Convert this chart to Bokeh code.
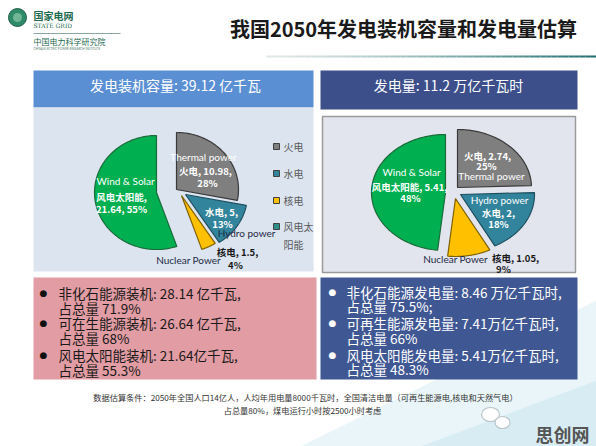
import numpy as np
from bokeh.plotting import figure
from bokeh.models import Range1d
from bokeh.core.properties import value
from bokeh.embed import file_html
from bokeh.resources import INLINE

# ---------------- data ----------------
categories = ["火电", "水电", "核电", "风电太阳能"]
categories_en = ["Thermal power", "Hydro power", "Nuclear Power", "Wind & Solar"]
capacity = [10.98, 5, 1.5, 21.64]          # 亿千瓦
capacity_pct = [28, 13, 4, 55]
generation = [2.74, 2, 1.05, 5.41]         # 万亿千瓦时
generation_pct = [25, 18, 9, 48]
capacity_total = "39.12"
generation_total = "11.2"
title = "我国2050年发电装机容量和发电量估算"
left_bullets = [("非化石能源装机: 28.14 亿千瓦,", "占总量 71.9%"),
                ("可在生能源装机: 26.64 亿千瓦,", "占总量 68%"),
                ("风电太阳能装机: 21.64亿千瓦,", "占总量 55.3%")]
right_bullets = [("非化石能源发电量: 8.46 万亿千瓦时,", "占总量 75.5%;"),
                 ("可再生能源发电量: 7.41万亿千瓦时,", "占总量 66%"),
                 ("风电太阳能发电量: 5.41万亿千瓦时,", "占总量 48.3%")]
footnote = ["数据估算条件：2050年全国人口14亿人，人均年用电量8000千瓦时，全国清洁电量（可再生能源电,核电和天然气电）",
            "占总量80%，煤电运行小时按2500小时考虑"]

# ---------------- styles ----------------
CJK = value("Noto Sans CJK SC")
LAT = value("Lato")
slice_colors = ["#7f7f7f", "#31849b", "#ffc000", "#00b050"]
slice_lines = ["#3a3a3a", "#1f4e5f", "#7f6000", "#1b6b3a"]

p = figure(width=596, height=446, x_range=Range1d(0, 596), y_range=Range1d(446, 0),
           toolbar_location=None, output_backend="svg", min_border=0)
p.axis.visible = False
p.grid.visible = False
p.outline_line_color = None
p.background_fill_color = "white"
p.border_fill_color = "white"


def txt(x, y, s, size, color, font=CJK, bold=False, align="center"):
    p.text(x=[x], y=[y], text=[s], text_font=font, text_font_size=f"{size}px",
           text_color=color, text_align=align, text_baseline="middle",
           text_font_style="bold" if bold else "normal")


# background tint bottom-right
p.patch([300, 596, 596], [446, 300, 446], fill_color="#cfe8f0", fill_alpha=0.45, line_color=None)
p.patch([420, 596, 596, 500], [446, 380, 446, 446], fill_color="#bfe0ea", fill_alpha=0.4, line_color=None)

# logo
p.scatter(x=[17], y=[17], size=18, fill_color="#2f8a6a", line_color="#1c5e46")
p.scatter(x=[17], y=[17], size=9, fill_color="#8cc9a9", line_color=None, fill_alpha=0.7)
txt(33, 15, "国家电网", 10, "#1e6b50", bold=True, align="left")
txt(33, 25, "STATE GRID", 6, "#1e6b50", font=value("DejaVu Serif"), align="left")
p.segment(x0=[33], y0=[33], x1=[120], y1=[33], line_color="#8aa8a0", line_width=1)
txt(33, 41, "中国电力科学研究院", 8, "#1e6b50", align="left")
txt(33, 48, "CHINA ELECTRIC POWER RESEARCH INSTITUTE", 3, "#557f70", font=LAT, align="left")

# title + underline
txt(403, 28, title, 20, "#1a1a1a", bold=True)
xs = np.linspace(266, 596, 60)
cols = []
for f in np.linspace(0, 1, 59):
    c0 = np.array([225, 232, 232]); c1 = np.array([30, 110, 110])
    c = (c0 + (c1 - c0) * f ** 1.3).astype(int)
    cols.append("#%02x%02x%02x" % tuple(c))
p.segment(x0=xs[:-1], y0=[56] * 59, x1=xs[1:], y1=[56] * 59, line_color=cols, line_width=2)

# panels
p.quad(left=[33], right=[313], top=[70], bottom=[107], fill_color="#5b8fd4", line_color=None)
p.quad(left=[33], right=[313], top=[107], bottom=[271], fill_color="#dbe4ef", line_color=None)
p.quad(left=[320], right=[577], top=[70], bottom=[109], fill_color="#3c4f8a", line_color=None)
p.quad(left=[322], right=[575], top=[116], bottom=[272], fill_color="#e3e5ee",
       line_color="#9a9a9a", line_width=1.5)
p.quad(left=[33], right=[316], top=[277], bottom=[379], fill_color="#e29ca3", line_color=None)
p.quad(left=[320], right=[577], top=[277], bottom=[379], fill_color="#3f5893", line_color=None)

txt(175, 84, f"发电装机容量: {capacity_total} 亿千瓦", 14, "white")
txt(448, 84, f"发电量: {generation_total} 万亿千瓦时", 14, "white")


# pies (elliptical, exploded), clockwise from 12 o'clock
def pie(values, cx, cy, rx, ry, offsets):
    total = float(sum(values))
    start = 0.0
    pxs, pys = [], []
    for v, (dx, dy) in zip(values, offsets):
        end = start + v / total * 2 * np.pi
        t = np.linspace(start, end, 80)
        pxs.append(list(cx + dx + rx * np.sin(t)) + [cx + dx])
        pys.append(list(cy + dy - ry * np.cos(t)) + [cy + dy])
        start = end
    p.patches(pxs, pys, fill_color=slice_colors, line_color=slice_lines, line_width=1.2)


pie(capacity, 176, 193, 62, 57, [(0, -4), (9, 1), (5, 2), (-20, -1)])
pie(generation, 455, 192, 74, 58, [(2, -5), (5, 2), (0, 6), (-10, 0)])

# left pie labels
W = "white"
txt(203, 156, categories_en[0], 10, W, font=LAT)
txt(205, 170, f"{categories[0]}, {capacity[0]:g},", 9.5, W, bold=True)
txt(207, 182, f"{capacity_pct[0]}%", 9.5, W, bold=True)
txt(125, 180, categories_en[3], 10, W, font=LAT)
txt(121, 196, f"{categories[3]},", 9.5, W, bold=True)
txt(121, 208, f"{capacity[3]:g}, {capacity_pct[3]}%", 9.5, W, bold=True)
txt(221, 211, f"{categories[1]}, {capacity[1]:g},", 9.5, W, bold=True)
txt(222, 223, f"{capacity_pct[1]}%", 9.5, W, bold=True)
txt(246, 232, categories_en[1], 10, "#1f2a44", font=LAT)
txt(237, 251, f"{categories[2]}, {capacity[2]:g},", 9.5, "#1a1a1a", bold=True)
txt(235, 264, f"{capacity_pct[2]}%", 9.5, "#1a1a1a", bold=True)
txt(188, 259, categories_en[2], 10, "#1f2a44", font=LAT)

# left legend
leg_y = [146, 173, 200, 226]
p.rect(x=[276] * 4, y=leg_y, width=6, height=6, fill_color=["#7f7f7f", "#31849b", "#ffc000", "#2f8f88"],
       line_color="#404040", line_width=1)
for yy, c in zip(leg_y, categories):
    txt(283, yy, c[:3], 10, "#5a5a5a", align="left")
txt(283, 244, "  " + categories[3][3:], 10, "#5a5a5a", align="left")

# right pie labels
txt(487, 155, f"{categories[0]}, {generation[0]:g},", 9.5, W, bold=True)
txt(486, 165, f"{generation_pct[0]}%", 9.5, W, bold=True)
txt(491, 175, categories_en[0], 10, W, font=LAT)
txt(411, 171, categories_en[3], 10, W, font=LAT)
txt(409, 186, f"{categories[3]}, {generation[3]:g},", 9.5, W, bold=True)
txt(410, 197, f"{generation_pct[3]}%", 9.5, W, bold=True)
txt(499, 199, categories_en[1], 10, W, font=LAT)
txt(498, 212, f"{categories[1]}, {generation[1]:g},", 9.5, W, bold=True)
txt(498, 223, f"{generation_pct[1]}%", 9.5, W, bold=True)
txt(455, 258, categories_en[2], 10, "#1f2a44", font=LAT)
txt(515, 257, f"{categories[2]}, {generation[2]:g},", 9.5, "#1a1a1a", bold=True)
txt(503, 268, f"{generation_pct[2]}%", 9.5, "#1a1a1a", bold=True)

# bullet boxes
left_y = [(292, 307), (322, 337), (354, 369)]
for (a, b), (y1, y2) in zip(left_bullets, left_y):
    txt(43, y1, "●", 9, "#111111", font=value("DejaVu Sans"))
    txt(58, y1, a, 13.5, "#1a1a1a", align="left")
    txt(58, y2, b, 13.5, "#1a1a1a", align="left")
right_y = [(291, 305), (322, 337), (354, 368)]
for (a, b), (y1, y2) in zip(right_bullets, right_y):
    txt(332, y1, "●", 9, "white", font=value("DejaVu Sans"))
    txt(346, y1, a, 13.5, "white", align="left")
    txt(346, y2, b, 13.5, "white", align="left")

# footnote
txt(305, 396, footnote[0], 8.2, "#333333")
txt(302, 409, footnote[1], 8.2, "#333333")

# watermark
p.ellipse(x=[490, 502], y=[414, 422], width=[18, 15], height=[14, 12], fill_color="white",
          line_color="#b8c4c8", line_width=1.2)
txt(562, 433, "思创网", 18, "#555555", bold=True)

open("out.html", "w").write(file_html(p, INLINE))
